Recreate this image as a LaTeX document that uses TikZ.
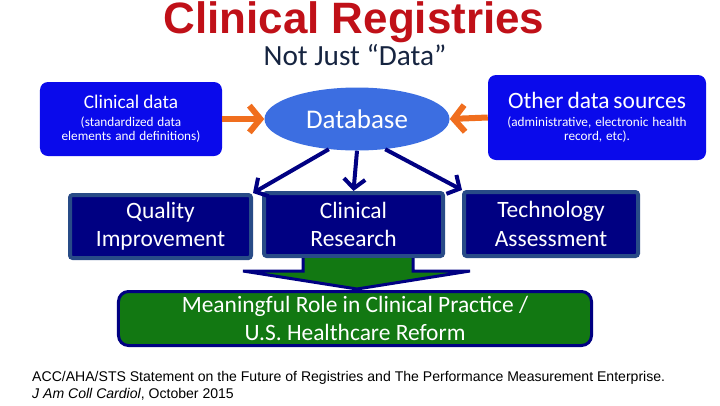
\documentclass[tikz,border=0pt]{standalone}
\usepackage{fontspec}
\setmainfont{Carlito}
\newfontfamily\arialfont{Liberation Sans}
\usetikzlibrary{shapes.geometric,arrows.meta}

\definecolor{regred}{RGB}{192,16,24}
\definecolor{subink}{RGB}{22,36,64}
\definecolor{srcblue}{RGB}{10,10,235}
\definecolor{dbblue}{RGB}{60,110,225}
\definecolor{usenavy}{RGB}{0,0,130}
\definecolor{useedge}{RGB}{40,75,135}
\definecolor{rolegreen}{RGB}{18,120,18}
\definecolor{feedorange}{RGB}{240,110,30}

\begin{document}
\begin{tikzpicture}[x=0.3mm, y=-0.3mm,
		srcbox/.style={fill=srcblue, rounded corners=2.4mm, text=white, align=center, inner sep=0pt},
		usebox/.style={fill=usenavy, draw=useedge, line width=1.2mm, rounded corners=0.8mm, text=white,
			align=center, inner sep=0pt, minimum height=18.9mm, font=\fontsize{20}{24}\selectfont},
		feed/.style={feedorange, line width=1.8mm, -{Straight Barb[length=3.3mm, width=8mm]}},
		spread/.style={usenavy, line width=1.2mm, -{Straight Barb[length=2.8mm, width=6.4mm]}}]
		\useasboundingbox (0,0) rectangle (720,405);
		
		% heading
		\node[anchor=base, text=regred, font=\arialfont\bfseries\fontsize{37.5}{40}\selectfont] (title) at (354,33) {Clinical Registries};
		\node[anchor=base, text=subink, font=\fontsize{25}{30}\selectfont] (subtitle) at (355,65) {Not Just “Data”};
		
		% data sources
		\node[srcbox, minimum width=54.6mm, minimum height=22.2mm, text width=54mm] (clin) at (131,119)
			{\fontsize{16.5}{20}\selectfont Clinical data\\[1pt]
			\fontsize{11.3}{14.5}\selectfont (standardized data\\ elements and definitions)};
		\node[srcbox, minimum width=65.4mm, minimum height=25.5mm, text width=64mm] (other) at (597,117.5)
			{\fontsize{20}{24}\selectfont Other data sources\\[1pt]
			\fontsize{11.3}{14.5}\selectfont (administrative, electronic health\\ record, etc).};
		\node[ellipse, fill=dbblue, text=white, inner sep=0pt, minimum width=55.5mm, minimum height=18.9mm,
			font=\fontsize{23}{27}\selectfont] (db) at (357,119) {Database};
		
		% uses
		\node[usebox, minimum width=54.3mm] (qi) at (160.5,226.5) {Quality\\ Improvement};
		\node[usebox, minimum width=53.7mm] (cr) at (353.5,224.5) {Clinical\\ Research};
		\node[usebox, minimum width=52.2mm, minimum height=19.2mm] (ta) at (551,224) {Technology\\ Assessment};
		
		\draw[feed] (clin.east) -- (db.west);
		\draw[feed] (other.west) -- (db.east);
		\draw[spread] (db.227) -- (qi.north east);
		\draw[spread] (db.south) -- (cr.north);
		\draw[spread] (db.313) -- (ta.north west);
		
		% block arrow down to the outcome
		\filldraw[fill=rolegreen, draw=usenavy, line width=0.9mm, line join=miter]
			(303,258) -- (303,271) -- (243,271) -- (357,289) -- (470,271) -- (413,271) -- (413,258);
		\node[fill=rolegreen, draw=usenavy, line width=0.9mm, rounded corners=3mm, text=white, align=center,
			inner sep=0pt, minimum width=141.9mm, minimum height=16.2mm, font=\fontsize{20}{24}\selectfont] (role) at (355,318.5)
			{Meaningful Role in Clinical Practice /\\ U.S. Healthcare Reform};
		
		% reference
		\node[anchor=base west, inner sep=0pt, font=\arialfont\fontsize{12}{14}\selectfont] (ref) at (32,381)
			{ACC/AHA/STS Statement on the Future of Registries and The Performance Measurement Enterprise.};
		\node[anchor=base west, inner sep=0pt, font=\arialfont\fontsize{12}{14}\selectfont] (journal) at (32,398)
			{\textit{J Am Coll Cardiol}, October 2015};
	\end{tikzpicture}
\end{document}
